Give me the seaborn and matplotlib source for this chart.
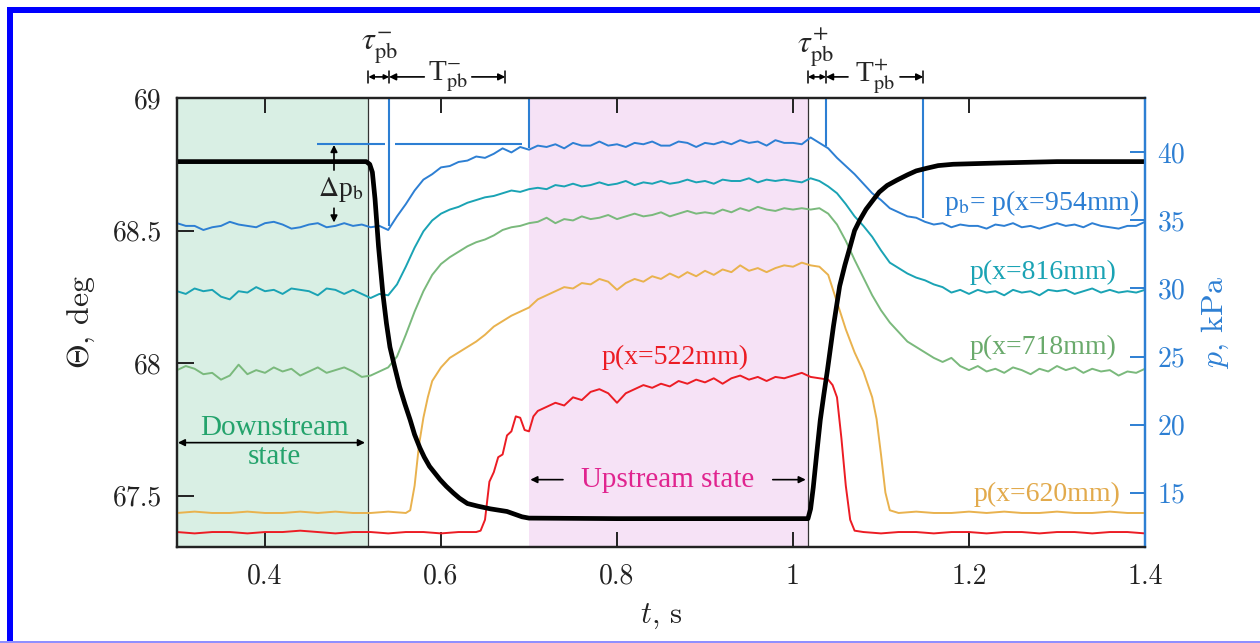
import numpy as np
import matplotlib
matplotlib.use("Agg")
import matplotlib.pyplot as plt
from matplotlib.patches import Rectangle
from matplotlib.transforms import blended_transform_factory
import seaborn as sns

# ---------------- data ----------------
# exit flow angle Theta(t), deg
theta_t = [0.30, 0.515, 0.519, 0.522, 0.525, 0.529, 0.534, 0.538, 0.542, 0.547,
           0.553, 0.559, 0.565, 0.570, 0.576, 0.581, 0.587, 0.593, 0.599, 0.606,
           0.614, 0.621, 0.630, 0.642, 0.656, 0.675, 0.692, 0.70, 0.80, 0.90,
           1.00, 1.017, 1.020, 1.023, 1.027, 1.031, 1.035, 1.039, 1.046, 1.053,
           1.059, 1.065, 1.070, 1.076, 1.083, 1.091, 1.098, 1.107, 1.118, 1.130,
           1.140, 1.152, 1.165, 1.182, 1.235, 1.30, 1.40]
theta_deg = [68.76, 68.76, 68.75, 68.72, 68.62, 68.44, 68.26, 68.15, 68.06, 67.99,
             67.91, 67.845, 67.785, 67.73, 67.68, 67.645, 67.61, 67.585, 67.56, 67.535,
             67.51, 67.49, 67.47, 67.46, 67.45, 67.44, 67.42, 67.415, 67.413, 67.413,
             67.413, 67.413, 67.45, 67.53, 67.66, 67.785, 67.88, 67.97, 68.14, 68.29,
             68.37, 68.44, 68.50, 68.54, 68.58, 68.615, 68.645, 68.67, 68.69, 68.71,
             68.725, 68.735, 68.745, 68.75, 68.755, 68.76, 68.76]

# sampling clock of the three rear pressure taps, s
sample_t = np.round(np.linspace(0.30, 1.40, 111), 2)

# back pressure p_b = p(x=954mm), kPa
p954_kpa = [34.8, 34.6, 34.6, 34.3, 34.5, 34.6, 34.9, 34.7, 34.6, 34.5,
            34.8, 34.9, 34.7, 34.4, 34.5, 34.7, 34.8, 34.5, 34.6, 34.8,
            34.6, 34.7, 34.5, 34.6, 34.3, 35.3, 36.2, 37.2, 38.0, 38.4,
            38.9, 39.0, 39.3, 39.4, 39.7, 39.6, 39.9, 40.3, 40.0, 40.4,
            40.2, 40.5, 40.4, 40.6, 40.3, 40.7, 40.5, 40.5, 40.8, 40.5,
            40.6, 40.4, 40.7, 40.6, 40.8, 40.5, 40.5, 40.8, 40.7, 40.4,
            40.7, 40.6, 40.8, 40.6, 40.9, 40.7, 40.8, 40.5, 40.9, 40.7,
            40.7, 40.6, 41.1, 40.7, 40.3, 39.6, 39.0, 38.4, 37.7, 37.0,
            36.5, 35.9, 35.6, 35.3, 35.2, 34.9, 34.7, 34.8, 34.5, 34.7,
            34.6, 34.6, 34.4, 34.7, 34.6, 34.8, 34.5, 34.6, 34.4, 34.6,
            34.8, 34.6, 34.7, 34.5, 34.8, 34.6, 34.5, 34.4, 34.6, 34.6,
            34.9]

# p(x=816mm), kPa
p816_kpa = [29.8, 29.6, 30.0, 29.8, 29.9, 29.4, 29.2, 29.8, 29.7, 30.1,
            29.8, 29.9, 29.6, 30.0, 29.9, 29.8, 29.5, 30.0, 29.9, 29.6,
            29.9, 29.6, 29.3, 29.6, 29.5, 30.3, 31.6, 33.0, 34.2, 35.0,
            35.5, 35.8, 36.0, 36.3, 36.5, 36.7, 36.8, 37.0, 37.2, 37.1,
            37.3, 37.4, 37.3, 37.6, 37.5, 37.7, 37.5, 37.6, 37.8, 37.6,
            37.7, 37.9, 37.6, 37.8, 37.7, 37.9, 37.7, 37.8, 38.0, 37.8,
            37.9, 37.7, 38.0, 37.9, 37.9, 38.1, 37.8, 38.0, 37.9, 38.0,
            37.9, 37.8, 38.1, 37.9, 37.5, 37.0, 36.2, 35.3, 34.6, 33.8,
            32.8, 31.9, 31.5, 31.1, 30.8, 30.6, 30.3, 30.1, 29.7, 29.9,
            29.6, 29.9, 29.7, 29.8, 29.5, 29.9, 29.7, 29.8, 29.5, 29.9,
            29.8, 29.9, 29.6, 29.8, 30.0, 29.7, 29.9, 29.7, 29.8, 29.7,
            29.9]

# p(x=718mm), kPa
p718_kpa = [24.0, 24.3, 24.1, 23.7, 23.8, 23.3, 23.6, 24.4, 23.7, 24.0,
            23.8, 24.2, 23.9, 24.1, 23.6, 23.9, 24.2, 23.8, 24.0, 24.2,
            23.9, 23.5, 23.6, 23.9, 24.2, 25.0, 26.6, 28.3, 29.8, 31.0,
            31.8, 32.3, 32.7, 33.1, 33.4, 33.6, 33.9, 34.3, 34.5, 34.6,
            34.8, 34.9, 35.2, 34.8, 35.1, 35.0, 35.3, 35.1, 35.2, 35.4,
            35.1, 35.3, 35.5, 35.3, 35.4, 35.6, 35.3, 35.5, 35.7, 35.5,
            35.6, 35.5, 35.8, 35.6, 35.9, 35.7, 36.0, 35.8, 35.7, 35.9,
            35.8, 35.9, 35.8, 35.9, 35.5, 34.7, 33.5, 32.1, 30.8, 29.5,
            28.4, 27.5, 26.8, 26.1, 25.7, 25.3, 24.9, 24.6, 24.9, 24.3,
            24.0, 24.3, 23.9, 24.1, 23.8, 24.2, 24.0, 23.7, 24.1, 23.9,
            24.3, 24.0, 24.2, 23.8, 24.1, 23.9, 24.0, 23.6, 23.9, 23.8,
            24.1]

# p(x=620mm), kPa
p620_t = [0.30, 0.32, 0.34, 0.36, 0.38, 0.40, 0.42, 0.44, 0.46, 0.48, 0.50, 0.52, 0.54, 0.56,
          0.565, 0.57, 0.575, 0.58, 0.585, 0.59,
          0.60, 0.61, 0.62, 0.63, 0.64, 0.65, 0.66, 0.67, 0.68, 0.69,
          0.70, 0.71, 0.72, 0.73, 0.74, 0.75, 0.76, 0.77, 0.78, 0.79,
          0.80, 0.81, 0.82, 0.83, 0.84, 0.85, 0.86, 0.87, 0.88, 0.89,
          0.90, 0.91, 0.92, 0.93, 0.94, 0.95, 0.96, 0.97, 0.98, 0.99,
          1.00, 1.01, 1.02, 1.03, 1.04, 1.05, 1.06, 1.07, 1.08, 1.09,
          1.095, 1.10, 1.105, 1.11,
          1.12, 1.14, 1.16, 1.18, 1.20, 1.22, 1.24, 1.26, 1.28, 1.30, 1.32, 1.34, 1.36, 1.38, 1.40]
p620_kpa = [13.5, 13.6, 13.5, 13.5, 13.6, 13.5, 13.5, 13.6, 13.5, 13.6, 13.5, 13.5, 13.6, 13.5,
            13.7, 15.5, 18.5, 20.5, 22.0, 23.2,
            24.2, 24.9, 25.3, 25.7, 26.1, 26.6, 27.2, 27.6, 28.0, 28.3,
            28.6, 29.2, 29.5, 29.8, 30.1, 30.0, 30.4, 30.3, 30.7, 30.5,
            29.9, 30.4, 30.7, 30.5, 30.9, 30.7, 31.1, 30.8, 31.2, 30.9,
            31.3, 31.0, 31.4, 31.2, 31.7, 31.3, 31.5, 31.2, 31.5, 31.7,
            31.6, 31.9, 31.7, 31.6, 31.0, 29.0, 27.0, 25.3, 23.9, 22.0,
            20.4, 17.8, 15.0, 13.7,
            13.5, 13.6, 13.5, 13.5, 13.6, 13.5, 13.6, 13.5, 13.5, 13.6, 13.5, 13.5, 13.6, 13.5, 13.5]

# p(x=522mm), kPa
p522_t = [0.30, 0.32, 0.34, 0.36, 0.38, 0.40, 0.42, 0.44, 0.46, 0.48, 0.50, 0.52, 0.54, 0.56,
          0.58, 0.60, 0.62, 0.64,
          0.645, 0.65, 0.655, 0.66, 0.665, 0.67, 0.675, 0.68, 0.685, 0.69, 0.695, 0.70, 0.705, 0.71,
          0.72, 0.73, 0.74, 0.75, 0.76, 0.77, 0.78, 0.79, 0.80, 0.81,
          0.82, 0.83, 0.84, 0.85, 0.86, 0.87, 0.88, 0.89, 0.90, 0.91,
          0.92, 0.93, 0.94, 0.95, 0.96, 0.97, 0.98, 0.99, 1.00, 1.01,
          1.02, 1.03, 1.04,
          1.045, 1.05, 1.055, 1.06, 1.065, 1.07,
          1.08,
          1.10, 1.12, 1.14, 1.16, 1.18, 1.20, 1.22, 1.24, 1.26, 1.28, 1.30, 1.32, 1.34, 1.36, 1.38, 1.40]
p522_kpa = [12.1, 12.0, 12.1, 12.1, 12.0, 12.1, 12.1, 12.2, 12.1, 12.0, 12.1, 12.1, 12.0, 12.1,
            12.1, 12.0, 12.1, 12.1,
            12.2, 13.0, 15.8, 16.5, 17.6, 17.8, 19.2, 19.5, 20.6, 20.5, 19.6, 19.5, 20.6, 21.0,
            21.3, 21.6, 21.4, 22.0, 21.8, 22.4, 22.6, 22.3, 21.6, 22.3,
            22.6, 22.9, 22.7, 23.0, 22.8, 23.2, 23.0, 23.3, 23.1, 23.4,
            23.0, 23.4, 23.6, 23.3, 23.5, 23.2, 23.5, 23.4, 23.6, 23.8,
            23.5, 23.4, 23.3,
            22.9, 22.0, 19.0, 15.5, 13.0, 12.2,
            12.1,
            12.0, 12.1, 12.1, 12.0, 12.1, 12.1, 12.0, 12.1, 12.1, 12.0, 12.1, 12.1, 12.0, 12.1, 12.1, 12.0]

# characteristic instants, s
t_down_switch = 0.5175      # start of the upstream-moving transition
t_up_switch = 1.017         # start of the return transition
t_up_state = 0.700          # established upstream state
t_T_down_end = 0.673
# p_b markers: time, pressure where the marker line meets the p_b trace
pb_mark_t = [0.541, 0.700, 1.0375, 1.148]
pb_mark_kpa = [34.6, 40.3, 40.5, 35.2]
pb_up_level = 40.6

x_ticks = [0.4, 0.6, 0.8, 1.0, 1.2, 1.4]
x_tick_labels = ["0.4", "0.6", "0.8", "1", "1.2", "1.4"]
theta_ticks = [67.5, 68.0, 68.5, 69.0]
theta_tick_labels = ["67.5", "68", "68.5", "69"]
p_ticks = [15, 20, 25, 30, 35, 40]
p_tick_labels = ["15", "20", "25", "30", "35", "40"]

# ---------------- style ----------------
sns.set_theme(style="ticks")
plt.rcParams["font.family"] = "serif"
plt.rcParams["font.serif"] = ["cmr10", "DejaVu Serif"]
plt.rcParams["mathtext.fontset"] = "cm"
plt.rcParams["axes.unicode_minus"] = False
plt.rcParams["axes.formatter.use_mathtext"] = True

BLUE = "#2d7fd3"
TEAL = "#1aa3b4"
GREEN = "#7ab97c"
ORANGE = "#e9b24e"
RED = "#ec1c24"
ANN = dict(family="Liberation Serif", math_fontfamily="stix")

fig = plt.figure(figsize=(12.6, 6.43), dpi=100)
fig.patch.set_facecolor("white")
ax_p = fig.add_axes([177 / 1260, 1 - 547 / 643, 968 / 1260, 449 / 643])
ax_t = ax_p.twinx()
ax_t.yaxis.tick_left()
ax_t.yaxis.set_label_position("left")
ax_p.yaxis.tick_right()
ax_p.yaxis.set_label_position("right")

# state regions and switch instants
ax_p.axvspan(0.30, t_down_switch, color="#d9efe4", lw=0, zorder=0)
ax_p.axvspan(t_up_state, t_up_switch, color="#f6e2f6", lw=0, zorder=0)
ax_p.axvline(t_down_switch, color="#333333", lw=0.9, zorder=1)
ax_p.axvline(t_up_switch, color="#333333", lw=0.9, zorder=1)

# pressure traces
lw_p = 1.4
sns.lineplot(x=p522_t, y=p522_kpa, ax=ax_p, color=RED, lw=lw_p, estimator=None, sort=False, zorder=3)
sns.lineplot(x=p620_t, y=p620_kpa, ax=ax_p, color=ORANGE, lw=lw_p, estimator=None, sort=False, zorder=3)
sns.lineplot(x=sample_t, y=p718_kpa, ax=ax_p, color=GREEN, lw=lw_p, estimator=None, sort=False, zorder=3)
sns.lineplot(x=sample_t, y=p816_kpa, ax=ax_p, color=TEAL, lw=lw_p, estimator=None, sort=False, zorder=3)
sns.lineplot(x=sample_t, y=p954_kpa, ax=ax_p, color=BLUE, lw=lw_p, estimator=None, sort=False, zorder=3)

# p_b time markers and upstream level
ax_p.vlines(pb_mark_t, pb_mark_kpa, 44, color=BLUE, lw=1.5, zorder=2)
ax_p.hlines([pb_up_level, pb_up_level], [0.459, 0.548], [0.536, 0.692], color=BLUE, lw=1.5, zorder=2)

# exit angle
sns.lineplot(x=theta_t, y=theta_deg, ax=ax_t, color="black", lw=3.4, estimator=None, sort=False)

# ---------------- axes ----------------
ax_p.set_xlim(0.30, 1.40)
ax_p.set_ylim(11.0, 44.0)
ax_t.set_ylim(67.306, 69.0)

ax_p.set_xticks(x_ticks)
ax_p.set_xticklabels(x_tick_labels)
ax_p.set_yticks(p_ticks)
ax_p.set_yticklabels(p_tick_labels)
ax_t.set_yticks(theta_ticks)
ax_t.set_yticklabels(theta_tick_labels)

ax_p.tick_params(axis="x", direction="in", top=True, bottom=True, length=11, width=1.4,
                 labelsize=20, pad=12, colors="#222222")
ax_p.tick_params(axis="y", direction="in", left=False, right=True, length=11, width=1.4,
                 labelsize=20, pad=9, colors=BLUE)
ax_t.tick_params(axis="y", direction="in", left=True, right=False, length=12, width=1.4,
                 labelsize=20, pad=11, colors="#222222")

for ax in (ax_p, ax_t):
    for side in ("left", "top", "bottom"):
        ax.spines[side].set_color("#222222")
        ax.spines[side].set_linewidth(1.6)
    ax.spines["right"].set_color(BLUE)
    ax.spines["right"].set_linewidth(1.6)

ax_p.set_xlabel(r"$t$, s", fontsize=22, color="#222222")
ax_p.xaxis.set_label_coords(0.5, -0.122)
ax_t.set_ylabel(r"$\Theta$, deg", fontsize=23, color="#222222")
ax_t.yaxis.set_label_coords(-0.083, 0.5)
ax_p.set_ylabel(r"$p$, kPa", fontsize=23, color=BLUE)
ax_p.yaxis.set_label_coords(1.057, 0.5)

# ---------------- annotations ----------------
top = blended_transform_factory(ax_p.transData, ax_p.transAxes)
head = dict(arrowstyle="-|>", color="black", lw=1.2, mutation_scale=10, shrinkA=0, shrinkB=0)
both = dict(arrowstyle="<|-|>", color="black", lw=1.2, mutation_scale=7, shrinkA=0, shrinkB=0)

ax_p.text(0.5295, 1.112, r"$\tau_{\rm pb}^{-}$", transform=top, fontsize=23, ha="center",
          va="center", clip_on=False, **ANN)
ax_p.text(1.025, 1.112, r"$\tau_{\rm pb}^{+}$", transform=top, fontsize=23, ha="center",
          va="center", clip_on=False, **ANN)
ax_p.text(0.608, 1.047, r"T$_{\rm pb}^{-}$", transform=top, fontsize=21, ha="center",
          va="center", clip_on=False, **ANN)
ax_p.text(1.093, 1.047, r"T$_{\rm pb}^{+}$", transform=top, fontsize=21, ha="center",
          va="center", clip_on=False, **ANN)

y_dim = 1.047
for a, b in ((t_down_switch, pb_mark_t[0]), (t_up_switch, pb_mark_t[2])):
    ax_p.annotate("", xy=(a, y_dim), xytext=(b, y_dim), xycoords=top, textcoords=top,
                  arrowprops=both, annotation_clip=False)
for a, b in ((0.581, pb_mark_t[0]), (0.635, t_T_down_end),
             (1.0625, pb_mark_t[2]), (1.1216, pb_mark_t[3])):
    ax_p.annotate("", xy=(b, y_dim), xytext=(a, y_dim), xycoords=top, textcoords=top,
                  arrowprops=head, annotation_clip=False)
for xb in (t_down_switch, pb_mark_t[0], t_T_down_end, t_up_switch, pb_mark_t[2], pb_mark_t[3]):
    ax_p.plot([xb, xb], [y_dim - 0.013, y_dim + 0.013], color="black", lw=1.1,
              transform=top, clip_on=False)

# pressure jump across the transition
ax_p.annotate("", xy=(0.4784, 40.55), xytext=(0.4784, 38.7), arrowprops=head)
ax_p.annotate("", xy=(0.4784, 34.85), xytext=(0.4784, 35.9), arrowprops=head)
ax_p.text(0.486, 37.3, r"$\Delta$p$_{\rm b}$", fontsize=20, ha="center", va="center",
          color="#222222", **ANN)

# state labels
ax_p.text(0.4105, 19.75, "Downstream", fontsize=21, ha="center", va="center",
          color="#24a36c", **ANN)
ax_p.text(0.4105, 17.6, "state", fontsize=21, ha="center", va="center",
          color="#24a36c", **ANN)
ax_p.annotate("", xy=(0.301, 18.67), xytext=(0.5136, 18.67),
              arrowprops=dict(arrowstyle="<|-|>", color="black", lw=1.2, mutation_scale=10,
                              shrinkA=0, shrinkB=0))
ax_p.text(0.858, 15.95, "Upstream state", fontsize=21, ha="center", va="center",
          color="#e0248f", **ANN)
ax_p.annotate("", xy=(0.7015, 15.95), xytext=(0.7386, 15.95), arrowprops=head)
ax_p.annotate("", xy=(1.0145, 15.95), xytext=(0.977, 15.95), arrowprops=head)

# trace labels
ax_p.text(0.866, 24.9, "p(x=522mm)", fontsize=20, ha="center", va="center", color=RED, **ANN)
ax_p.text(1.394, 36.3, r"p$_{\rm b}$= p(x=954mm)", fontsize=20, ha="right", va="center",
          color=BLUE, **ANN)
ax_p.text(1.368, 31.2, "p(x=816mm)", fontsize=20, ha="right", va="center", color=TEAL, **ANN)
ax_p.text(1.368, 25.7, "p(x=718mm)", fontsize=20, ha="right", va="center", color="#6aaa6c", **ANN)
ax_p.text(1.372, 14.85, "p(x=620mm)", fontsize=20, ha="right", va="center", color="#e2aa4c", **ANN)

# page frame
fig.add_artist(Rectangle((7 / 1260, 0), 6 / 1260, 636 / 643, transform=fig.transFigure,
                         color="#0000ff", lw=0))
fig.add_artist(Rectangle((7 / 1260, 630 / 643), 1253 / 1260, 6 / 643, transform=fig.transFigure,
                         color="#0000ff", lw=0))
fig.add_artist(Rectangle((0, 0), 1, 2 / 643, transform=fig.transFigure, color="#8f8fff", lw=0))

fig.savefig("out.png", dpi=100)
